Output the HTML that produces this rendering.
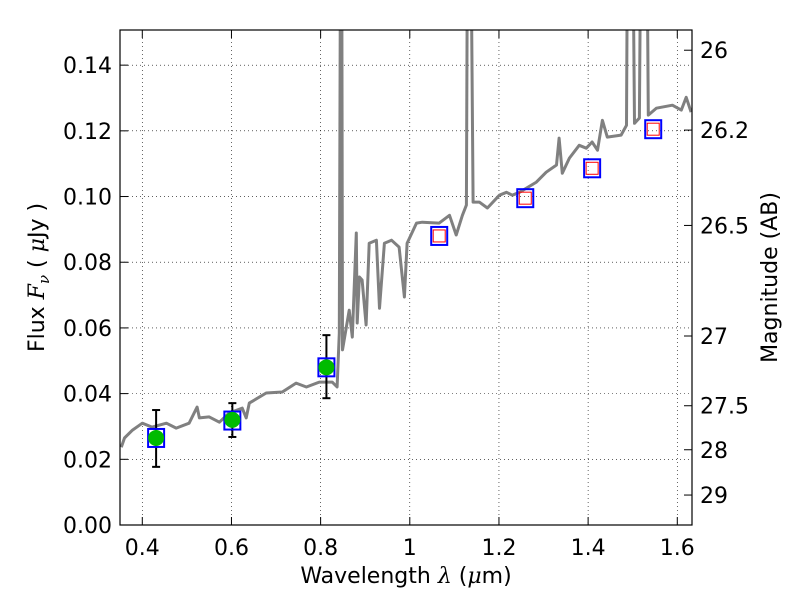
<!DOCTYPE html>
<html><head><meta charset="utf-8"><style>
body{margin:0;background:#fff}
svg{font-family:"DejaVu Sans","Liberation Sans",sans-serif}
</style></head><body>
<svg id="chart" width="800" height="600"></svg>
<script>
const specLam=[0.353,0.360,0.378,0.4,0.422,0.454,0.476,0.505,0.523,0.528,0.550,0.573,0.595,0.624,0.633,0.640,0.678,0.714,0.745,0.768,0.797,0.826,0.837,0.842,0.845,0.847,0.849,0.864,0.871,0.880,0.882,0.887,0.893,0.902,0.909,0.925,0.932,0.943,0.959,0.976,0.988,0.994,1.015,1.028,1.066,1.089,1.104,1.118,1.127,1.130,1.136,1.142,1.156,1.174,1.201,1.217,1.230,1.246,1.284,1.306,1.329,1.335,1.342,1.358,1.380,1.396,1.409,1.421,1.432,1.443,1.474,1.486,1.489,1.499,1.504,1.515,1.519,1.531,1.535,1.553,1.589,1.609,1.620,1.631];
const specFlux=[0.0237,0.0265,0.0289,0.0310,0.0298,0.0310,0.0295,0.0310,0.0359,0.0326,0.0329,0.0313,0.0341,0.0356,0.0326,0.0371,0.0402,0.0405,0.0432,0.0420,0.0435,0.0435,0.0420,0.0584,0.2,0.2,0.0533,0.0654,0.0572,0.0889,0.0615,0.0755,0.0746,0.0609,0.0858,0.0867,0.0660,0.0858,0.0867,0.0846,0.0694,0.0858,0.0919,0.0922,0.0919,0.0943,0.0883,0.0943,0.0974,0.2,0.2,0.0983,0.0983,0.0965,0.1004,0.1013,0.1004,0.1013,0.1044,0.1074,0.1096,0.1178,0.1071,0.1117,0.1156,0.1147,0.1166,0.1141,0.1232,0.1181,0.1187,0.1217,0.2,0.2,0.1223,0.1239,0.2,0.2,0.1248,0.1269,0.1278,0.1263,0.1302,0.1257];
const obsLam=[0.431,0.602,0.813];
const obsFlux=[0.0265,0.032,0.048];
const obsLo=[0.0177,0.0268,0.0386];
const obsHi=[0.035,0.0371,0.0578];
const modLam=[0.431,0.602,0.813,1.066,1.259,1.409,1.546];
const modFlux=[0.0265,0.0318,0.048,0.088,0.0995,0.1086,0.1205];
const xTicks=[0.4,0.6,0.8,1.0,1.2,1.4,1.6];
const xLabels=["0.4","0.6","0.8","1","1.2","1.4","1.6"];
const yTicks=[0,0.02,0.04,0.06,0.08,0.1,0.12,0.14];
const yLabels=["0.00","0.02","0.04","0.06","0.08","0.10","0.12","0.14"];
const magTicks=[26,26.2,26.5,27,27.5,28,29];
const magLabels=["26","26.2","26.5","27","27.5","28","29"];

const L=120,R=692,T=30,B=525,X0=0.35,X1=1.633,Y0=0,Y1=0.1507;
const sx=v=>L+(v-X0)/(X1-X0)*(R-L);
const sy=v=>B-(v-Y0)/(Y1-Y0)*(B-T);
const svg=document.getElementById('chart');
const NS='http://www.w3.org/2000/svg';
function mk(tag,attrs,parent){const e=document.createElementNS(NS,tag);for(const k in attrs)e.setAttribute(k,attrs[k]);(parent||svg).appendChild(e);return e;}
const defs=mk('defs',{});const cp=mk('clipPath',{id:'clip'},defs);mk('rect',{x:L,y:T,width:R-L,height:B-T},cp);

const FS=22;
const grid=mk('g',{});


xTicks.forEach((v,i)=>{
  const x=sx(v);
  mk('line',{x1:x,x2:x,y1:T,y2:B,stroke:'#000','stroke-width':0.6,'stroke-dasharray':'1,3'},grid);
  mk('line',{x1:x,x2:x,y1:B,y2:B-8,stroke:'#000'},grid);
  mk('line',{x1:x,x2:x,y1:T,y2:T+8,stroke:'#000'},grid);
  const t=mk('text',{x:x,y:B+30,'text-anchor':'middle','font-size':FS},grid);t.textContent=xLabels[i];
  
  
});
yTicks.forEach((v,i)=>{
  const y=sy(v);
  if(i>0)mk('line',{x1:L,x2:R,y1:y,y2:y,stroke:'#000','stroke-width':0.6,'stroke-dasharray':'1,3'},grid);
  mk('line',{x1:L,x2:L+8,y1:y,y2:y,stroke:'#000'},grid);
  const t=mk('text',{x:L-8,y:y+8,'text-anchor':'end','font-size':FS},grid);t.textContent=yLabels[i];
  
  
});
magTicks.forEach((m,i)=>{
  const y=sy(Math.pow(10,(23.9-m)/2.5));
  mk('line',{x1:R,x2:R-8,y1:y,y2:y,stroke:'#000'},grid);
  const t=mk('text',{x:R+8,y:y+8,'font-size':FS},grid);t.textContent=magLabels[i];
  
  
});

const plot=mk('g',{'clip-path':'url(#clip)'});
const pts=specLam.map((l,i)=>sx(l).toFixed(1)+','+sy(specFlux[i]).toFixed(1)).join(' ');
const sp=mk('polyline',{points:pts,fill:'none',stroke:'#808080','stroke-width':3,'stroke-linejoin':'round'},plot);



obsLam.forEach((l,i)=>{
  const x=sx(l);
  const e=mk('g',{},plot);
  
  
  mk('line',{x1:x,x2:x,y1:sy(obsLo[i]),y2:sy(obsHi[i]),stroke:'#000','stroke-width':2},e);
  mk('line',{x1:x-4,x2:x+4,y1:sy(obsLo[i]),y2:sy(obsLo[i]),stroke:'#000','stroke-width':2},e);
  mk('line',{x1:x-4,x2:x+4,y1:sy(obsHi[i]),y2:sy(obsHi[i]),stroke:'#000','stroke-width':2},e);
});
modLam.forEach((l,i)=>{
  const x=sx(l),y=sy(modFlux[i]);
  const s=mk('rect',{x:x-8,y:y-9,width:16,height:18,fill:'none',stroke:'#0000ff','stroke-width':2},plot);
  
  
  if(i>=3){
    const r=mk('rect',{x:x-6,y:y-6,width:12,height:12,fill:'none',stroke:'#ff0000','stroke-width':1},plot);
    
    
  }
});
obsLam.forEach((l,i)=>{
  const c=mk('circle',{cx:sx(l),cy:sy(obsFlux[i]),r:8,fill:'#00bb00'},plot);
  
  
});

const fr=mk('rect',{x:L,y:T,width:R-L,height:B-T,fill:'none',stroke:'#000','stroke-width':1.2});


const xt=mk('text',{x:(L+R)/2,y:583,'text-anchor':'middle','font-size':FS});
xt.innerHTML='Wavelength  <tspan font-style="italic" font-family="DejaVu Serif,serif">λ</tspan> (<tspan font-style="italic" font-family="DejaVu Serif,serif">μ</tspan>m)';


const yt=mk('text',{x:0,y:0,'text-anchor':'middle','font-size':FS,transform:'translate(44,'+((T+B)/2)+') rotate(-90)'});
yt.innerHTML='Flux  <tspan font-style="italic" font-family="DejaVu Serif,serif">F<tspan font-size="15" dy="5">ν</tspan></tspan><tspan dy="-5">  ( </tspan><tspan font-style="italic" font-family="DejaVu Serif,serif">μ</tspan>Jy )';


const rt=mk('text',{x:0,y:0,'text-anchor':'middle','font-size':FS,transform:'translate(777,'+((T+B)/2)+') rotate(-90)'});
rt.textContent='Magnitude (AB)';


</script>
</body></html>
